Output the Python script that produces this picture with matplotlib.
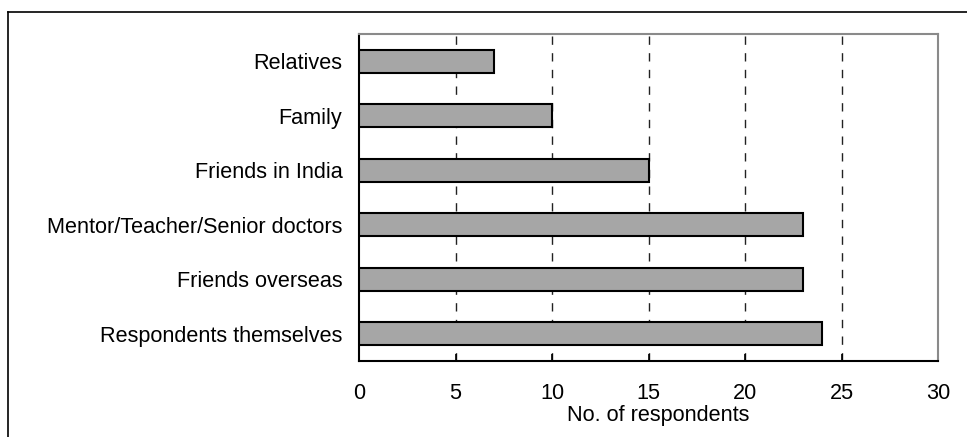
import matplotlib.pyplot as plt
from matplotlib.lines import Line2D

# data
categories = ["Relatives", "Family", "Friends in India",
              "Mentor/Teacher/Senior doctors", "Friends overseas",
              "Respondents themselves"]
counts = [7, 10, 15, 23, 23, 24]
x_ticks = [0, 5, 10, 15, 20, 25, 30]

plt.rcParams['font.family'] = ['Liberation Sans', 'DejaVu Sans']
fs = 15.6

fig = plt.figure(figsize=(9.67, 4.37), dpi=100)
ax = fig.add_axes([359 / 967, 1 - 361 / 437, (938 - 359) / 967, (361 - 34) / 437])

ypos = list(range(len(categories)))
ax.barh(ypos, counts, height=0.42, color='#a6a6a6', edgecolor='black',
        linewidth=1.5, zorder=3)

ax.set_xlim(0, 30)
ax.set_ylim(len(categories) - 0.5, -0.5)
ax.set_yticks(ypos)
ax.set_yticklabels(categories, fontsize=fs)
ax.set_xticks(x_ticks)
ax.set_xticklabels([str(t) for t in x_ticks], fontsize=fs)
ax.tick_params(axis='y', length=0, pad=12)
ax.tick_params(axis='x', direction='in', length=5, width=1.2, pad=16)

# dashed vertical grid
for t in x_ticks[1:-1]:
    ax.axvline(t, color='#222222', linewidth=1, linestyle=(0, (6, 6)), zorder=1)

ax.set_xlabel("No. of respondents", fontsize=fs)
ax.xaxis.set_label_coords(0.516, -0.135)

for s in ['left', 'bottom']:
    ax.spines[s].set_color('black')
    ax.spines[s].set_linewidth(1.5)
for s in ['top', 'right']:
    ax.spines[s].set_color('#8a8a8a')
    ax.spines[s].set_linewidth(1.5)

# outer frame (top and left edges)
fig.add_artist(Line2D([8 / 967, 1.0], [1 - 12 / 437, 1 - 12 / 437],
                      transform=fig.transFigure, color='black', linewidth=1.2))
fig.add_artist(Line2D([8 / 967, 8 / 967], [1 - 12 / 437, 0.0],
                      transform=fig.transFigure, color='black', linewidth=1.2))

fig.savefig('out.png', dpi=100)
